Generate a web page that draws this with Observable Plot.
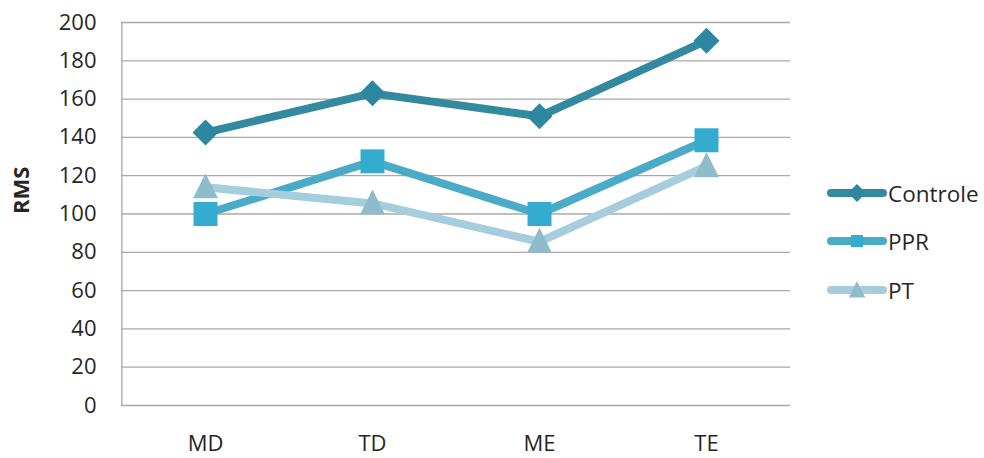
<!DOCTYPE html>
<html><head><meta charset="utf-8">
<script src="https://cdn.jsdelivr.net/npm/d3@7"></script>
<script src="https://cdn.jsdelivr.net/npm/@observablehq/plot@0.6"></script>
<style>
body{margin:0;background:#fff;font-family:"Open Sans",sans-serif}
#wrap{position:relative;width:984px;height:458px;overflow:hidden}
.leg{position:absolute;left:824px;height:26px;display:flex;align-items:center;font-size:22.5px;color:#262626}
.leg svg{display:block}
</style></head><body><div id="wrap"></div>
<script>
const categories = ["MD", "TD", "ME", "TE"];
const seriesNames = ["Controle", "PPR", "PT"];
const controle = [142.5, 163, 151, 190.5];
const ppr = [100, 127.5, 100, 138.5];
const pt = [114, 105.5, 85.5, 125];
const yTicks = [0, 20, 40, 60, 80, 100, 120, 140, 160, 180, 200];
const lineColors = ["#338a9e", "#4aabc7", "#a6cddb"];
const markerColors = ["#2e87a0", "#33acd0", "#8fbccb"];

const diamondSym = {draw(c){c.moveTo(0,-13);c.lineTo(13,0);c.lineTo(0,13);c.lineTo(-13,0);c.closePath();}};
const squareSym = {draw(c){c.moveTo(-12,-12);c.lineTo(12,-12);c.lineTo(12,12);c.lineTo(-12,12);c.closePath();}};
const triangleSym = {draw(c){c.moveTo(0,-14);c.lineTo(12.5,11);c.lineTo(-12.5,11);c.closePath();}};
const symbols = [diamondSym, squareSym, triangleSym];

const allSeries = [controle, ppr, pt];
const rows = [];
allSeries.forEach((vals, si) => vals.forEach((v, i) => rows.push({series: seriesNames[si], cat: categories[i], value: v, si})));

const seriesMarks = [];
seriesNames.forEach((name, si) => {
  const d = rows.filter(r => r.series === name);
  seriesMarks.push(Plot.line(d, {x: "cat", y: "value", stroke: lineColors[si], strokeWidth: 8, strokeLinecap: "round", strokeLinejoin: "round"}));
  seriesMarks.push(Plot.dot(d, {x: "cat", y: "value", symbol: () => symbols[si], r: 10, fill: markerColors[si], stroke: "none"}));
});

const chart = Plot.plot({
  width: 984,
  height: 458,
  marginLeft: 121,
  marginRight: 194,
  marginTop: 22,
  marginBottom: 53,
  style: {fontFamily: "'Open Sans', sans-serif", fontSize: "22px", color: "#262626", background: "#fff"},
  x: {type: "point", domain: categories, padding: 0.5, label: null},
  y: {domain: [0, 200], ticks: yTicks, label: null},
  symbol: {type: "identity"},
  marks: [
    Plot.ruleY(yTicks, {stroke: "#a8a8a8", strokeWidth: 1.3}),
    Plot.ruleX([0], {x: () => categories[0], dx: -83.6, y1: 0, y2: 200, stroke: "#a8a8a8", strokeWidth: 1.3}),
    Plot.axisY({ticks: yTicks, tickSize: 0, tickPadding: 25, fontSize: 22, fill: "#262626", label: null}),
    Plot.axisX({tickSize: 0, tickPadding: 30, fontSize: 22, fill: "#262626", label: null}),
    Plot.text(["RMS"], {frameAnchor: "left", dx: -100, rotate: -90, fontWeight: "bold", fontSize: 22, fill: "#262626"}),
    ...seriesMarks
  ]
});
document.getElementById("wrap").appendChild(chart);

// legend
const legendY = [193, 241, 290];
const paths = [
  "M0,-13L13,0L0,13L-13,0Z",
  "M-12,-12L12,-12L12,12L-12,12Z",
  "M0,-12L11,10L-11,10Z"
];
seriesNames.forEach((name, si) => {
  const div = document.createElement("div");
  div.className = "leg";
  div.style.top = (legendY[si] - 13) + "px";
  const svg = d3.create("svg").attr("width", 66).attr("height", 26);
  svg.append("line").attr("x1", 7).attr("x2", 59).attr("y1", 13).attr("y2", 13)
    .attr("stroke", lineColors[si]).attr("stroke-width", 8).attr("stroke-linecap", "round");
  const sc = [0.7, 0.5, 0.75][si];
  svg.append("path").attr("d", paths[si]).attr("transform", `translate(33,13) scale(${sc})`).attr("fill", markerColors[si]);
  div.appendChild(svg.node());
  const span = document.createElement("span");
  span.textContent = name;
  span.style.marginLeft = "-2px";
  div.appendChild(span);
  document.getElementById("wrap").appendChild(div);
});
</script></body></html>
